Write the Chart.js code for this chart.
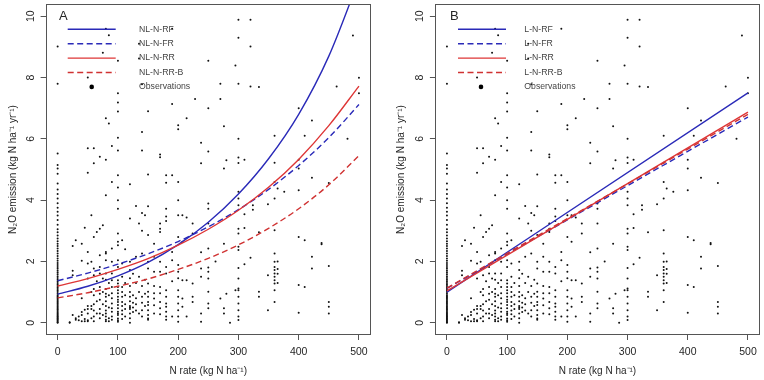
<!DOCTYPE html>
<html><head><meta charset="utf-8">
<script src="https://cdn.jsdelivr.net/npm/chart.js@4.4.1/dist/chart.umd.min.js"></script>
<style>
html,body{margin:0;padding:0;background:#fff;}
#wrap{position:relative;width:764px;height:380px;overflow:hidden;background:#fff;}
canvas{position:absolute;top:0;}
#cA{left:0;}
#cB{left:382px;}
</style></head><body>
<div id="wrap"><canvas id="cA" width="382" height="380"></canvas><canvas id="cB" width="382" height="380"></canvas></div>
<script>
// ---------- data ----------
const curveRates = [0, 50, 100, 150, 200, 250, 300, 350, 400, 450, 500];
const nlRF  = [0.93, 1.19, 1.53, 1.97, 2.55, 3.28, 4.20, 5.35, 6.80, 8.70, 11.20];
const nlFR  = [1.37, 1.62, 1.91, 2.25, 2.65, 3.13, 3.69, 4.35, 5.13, 6.04, 7.12];
const nlRR  = [1.20, 1.44, 1.74, 2.09, 2.53, 3.05, 3.67, 4.42, 5.33, 6.43, 7.72];
const nlRRB = [0.81, 0.98, 1.19, 1.43, 1.74, 2.10, 2.54, 3.08, 3.72, 4.50, 5.45];

const lineRates = [0, 500];
const lRF  = [1.00, 7.50];
const lFR  = [1.12, 6.71];
const lRR  = [1.04, 6.87];
const lRRB = [1.13, 6.80];

const namesA = ['NL-N-RF', 'NL-N-FR', 'NL-N-RR', 'NL-N-RR-B'];
const namesB = ['L-N-RF', 'L-N-FR', 'L-N-RR', 'L-N-RR-B'];
const obsLabel = 'Observations';

const xTickValues = [0, 100, 200, 300, 400, 500];
const yTickValues = [0, 2, 4, 6, 8, 10];

// observations: N rate and the N2O emissions observed at that rate
const obsRates = [0, 20, 25, 30, 35, 40, 45, 50, 56, 60, 65, 70, 75, 80, 85, 90, 100, 107, 112, 120, 125, 130, 135, 140, 145, 150, 160, 170, 180, 190, 200, 207, 214, 224, 228, 238, 250, 262, 270, 276, 280, 286, 295, 300, 310, 320, 324, 334, 349, 360, 365, 376, 400, 410, 422, 438, 450, 463, 481, 490, 500];
const obsEmissions = [
  [0,0.02,0.05,0.08,0.11,0.14,0.17,0.2,0.23,0.27,0.3,0.34,0.38,0.42,0.46,0.5,0.54,0.58,0.62,0.66,0.7,0.74,0.78,0.82,0.86,0.9,0.95,1.0,1.05,1.1,1.15,1.2,1.25,1.3,1.35,1.4,1.46,1.52,1.58,1.64,1.7,1.76,1.82,1.88,1.95,2.02,2.1,2.18,2.26,2.34,2.42,2.5,2.58,2.66,2.75,2.85,2.95,3.05,3.2,3.35,3.5,3.62,3.75,3.9,4.05,4.2,4.35,4.54,4.86,5.03,5.15,5.52,7.8,9.01],
  [0, 0.02],
  [2.5, 1.7, 1.55, 0.25],
  [2.69, 0.15, 0.1],
  [0.2, 0.08],
  [2.58, 2.02, 0.8, 0.35, 0.25, 0.05],
  [3.1, 0.42, 0.12, 0.05],
  [8.0, 5.69, 4.89, 2.31, 1.93, 1.44, 0.55, 0.45, 0.3, 0.08, 0.05],
  [3.51, 1.99, 1.0, 0.55, 0.45, 0.15],
  [5.69, 5.2, 2.8, 1.77, 1.55, 1.1, 0.9, 0.6, 0.4, 0.2, 0.05],
  [2.96, 1.35, 0.7, 0.3],
  [5.42, 3.07, 2.2, 1.82, 1.61, 1.17, 0.95, 0.75, 0.45, 0.3, 0.15],
  [8.81, 3.18, 1.44, 1.0, 0.6, 0.25],
  [9.59, 6.67, 5.32, 4.16, 2.31, 2.26, 2.04, 1.61, 1.4, 1.1, 0.95, 0.85, 0.7, 0.55, 0.4, 0.3, 0.2, 0.1, 0.05],
  [9.38, 6.5, 1.3, 0.9, 0.5, 0.15, 0.05],
  [5.77, 4.59, 2.42, 1.99, 1.61, 1.39, 1.17, 0.96, 0.8, 0.63, 0.47, 0.36, 0.2, 0.1],
  [8.55, 7.49, 7.19, 6.89, 6.04, 5.62, 4.81, 4.41, 4.0, 3.72, 2.91, 2.64, 2.53, 2.04, 1.82, 1.39, 1.28, 1.17, 1.06, 0.96, 0.85, 0.75, 0.68, 0.58, 0.47, 0.36, 0.3, 0.25, 0.14, 0.08, 0.03],
  [2.69, 1.93, 1.5, 1.17, 1.0, 0.85, 0.68, 0.55, 0.4, 0.28, 0.12],
  [2.4, 1.3, 0.9, 0.6, 0.45, 0.2],
  [4.52, 3.4, 1.99, 1.72, 1.45, 1.2, 1.0, 0.85, 0.7, 0.55, 0.5, 0.45, 0.3, 0.15, 0.0],
  [1.6, 0.9, 0.65, 0.5, 0.35],
  [3.81, 2.15, 1.3, 0.8, 0.6, 0.4],
  [9.1, 8.62, 3.24, 1.5, 1.0, 0.3],
  [7.78, 6.22, 5.62, 3.58, 3.0, 2.26, 1.2, 0.85, 0.65, 0.41, 0.2],
  [3.51, 1.4, 0.95, 0.55],
  [6.9, 4.84, 3.8, 2.86, 1.99, 1.77, 1.28, 1.01, 0.85, 0.68, 0.58, 0.41, 0.25, 0.14, 0.1],
  [2.58, 2.15, 1.66, 1.2, 0.96, 0.79, 0.57, 0.3],
  [5.49, 5.4, 3.24, 3.07, 2.96, 1.99, 1.66, 1.17, 0.96, 0.68, 0.47, 0.28],
  [4.81, 4.57, 3.72, 3.47, 3.32, 1.82, 1.61, 1.06, 0.85, 0.63, 0.52, 0.36, 0.2, 0.1],
  [9.59, 7.14, 4.81, 2.31, 2.04, 1.35, 0.2],
  [6.44, 6.31, 4.59, 4.0, 3.51, 2.8, 1.88, 1.66, 1.45, 1.06, 0.85, 0.63, 0.41, 0.2, 0.03],
  [3.51, 2.64, 1.39, 0.79, 0.52],
  [6.67, 3.43, 1.39, 0.2],
  [3.24, 2.91, 1.28, 0.85, 0.68],
  [7.3],
  [5.87, 5.2, 2.3, 1.77, 1.5, 0.3, 0.03],
  [8.55, 7.0, 5.59, 3.89, 3.72, 3.24, 2.42, 1.8, 1.66, 1.44, 1.01, 0.63, 0.47],
  [2.0],
  [7.8, 7.3, 0.79],
  [6.41, 5.03, 2.58, 0.47, 0.3],
  [5.3, 0.95],
  [0],
  [8.39, 1.06],
  [9.89, 9.3, 7.8, 6.0, 5.39, 5.21, 4.27, 4.05, 3.83, 3.07, 2.91, 2.48, 2.37, 1.79, 1.44, 1.12, 1.06, 0.85, 0.63, 0.41, 0.2, 0.09],
  [5.32, 3.54, 3.09, 1.91],
  [9.89, 9.01, 7.71, 2.12],
  [3.83, 3.69],
  [7.69, 2.95, 1.01, 0.85],
  [3.87, 1.55, 0.41],
  [6.1, 5.22, 4.59, 4.05, 3.02, 2.26, 1.99, 1.82, 1.72, 1.61, 1.5, 1.39, 1.28, 1.06, 0.68],
  [4.38, 2.0, 1.75, 1.6, 1.3],
  [4.27],
  [7.0, 5.32, 5.03, 4.32, 2.8, 1.23, 0.33],
  [6.1, 2.69, 1.17],
  [6.6, 4.73, 2.15, 1.77],
  [2.6, 2.56],
  [4.56, 1.85, 0.68, 0.52, 0.3],
  [7.71],
  [6.0],
  [9.37],
  [7.99, 7.49]
];

// ---------- styling ----------
const FONT = "'Liberation Sans', Arial, Helvetica, sans-serif";
const BLUE = '#2a2ab8';
const RED = '#de3636';
const RED_D = '#d03232';
const DASH = [6, 3.5];
const AXIS = '#555555';
const TEXT = '#262626';

const obsPoints = [];
obsRates.forEach((r, i) => obsEmissions[i].forEach(e => obsPoints.push({x: r, y: e})));

function lineDs(label, xs, ys, color, dashed, order) {
  return {
    type: 'line', label,
    data: xs.map((x, i) => ({x, y: ys[i]})),
    borderColor: color, backgroundColor: color,
    borderWidth: 1.4, borderDash: dashed ? DASH : [],
    pointRadius: 0, fill: false,
    cubicInterpolationMode: 'monotone', order
  };
}

const panelDecor = {
  id: 'panelDecor',
  afterDraw(chart, args, o) {
    const ctx = chart.ctx, ca = chart.chartArea;
    ctx.save();
    ctx.strokeStyle = AXIS; ctx.lineWidth = 1; ctx.setLineDash([]);
    ctx.strokeRect(Math.round(ca.left) + 0.5, Math.round(ca.top) + 0.5,
                   Math.round(ca.right - ca.left) - 1, Math.round(ca.bottom - ca.top) - 1);
    ctx.fillStyle = TEXT;
    ctx.font = '13px ' + FONT;
    ctx.textBaseline = 'middle'; ctx.textAlign = 'left';
    ctx.fillText(o.letter, ca.left + o.letterDx, 16.5);
    ctx.font = '8.7px ' + FONT;
    ctx.fillStyle = '#444';
    const ds = chart.data.datasets;
    for (let i = 0; i < ds.length; i++) {
      const y = 29.3 + i * 14.4;
      if (ds[i].type === 'line') {
        ctx.strokeStyle = ds[i].borderColor;
        ctx.lineWidth = ds[i].borderWidth;
        ctx.setLineDash(ds[i].borderDash || []);
        ctx.beginPath();
        ctx.moveTo(ca.left + o.lineDx, y);
        ctx.lineTo(ca.left + o.lineDx + 48, y);
        ctx.stroke();
      } else {
        ctx.fillStyle = '#000';
        ctx.beginPath();
        ctx.arc(ca.left + o.dotDx, y, 2.3, 0, Math.PI * 2);
        ctx.fill();
        ctx.fillStyle = '#444';
      }
      ctx.fillText(ds[i].label, ca.left + o.textDx, y);
    }
    ctx.restore();
  }
};

function makeChart(id, names, series, xs, geo) {
  const colors = [BLUE, BLUE, RED, RED_D];
  const dashed = [false, true, false, true];
  const orders = [4, 3, 2, 1];
  const datasets = names.map((n, i) => lineDs(n, xs, series[i], colors[i], dashed[i], orders[i]));
  datasets.push({
    type: 'scatter', label: obsLabel, data: obsPoints,
    pointRadius: 1.0, pointBackgroundColor: '#111', pointBorderWidth: 0,
    borderWidth: 0, showLine: false, order: 10
  });
  const tickFont = {family: FONT, size: 10.5};
  const titleFont = {family: FONT, size: 10};
  const grid = {display: true, drawOnChartArea: false, drawTicks: true, tickLength: 5, color: AXIS, lineWidth: 1};
  return new Chart(document.getElementById(id), {
    type: 'scatter',
    data: {datasets},
    options: {
      responsive: false, animation: false, devicePixelRatio: 1, events: [],
      layout: {padding: {left: 0, right: geo.padRight, top: 3.4, bottom: 0}},
      plugins: {
        legend: {display: false}, tooltip: {enabled: false},
        panelDecor: geo.decor
      },
      scales: {
        x: {
          type: 'linear', min: -20, max: 520,
          afterBuildTicks: s => { s.ticks = xTickValues.map(v => ({value: v})); },
          afterFit: s => { s.height = 45; s.paddingLeft = 0; s.paddingRight = 0; },
          grid, border: {display: false},
          ticks: {padding: 6, color: TEXT, font: tickFont, maxRotation: 0, autoSkip: false},
          title: {display: true, text: 'N rate (kg N ha⁻¹)', color: TEXT, font: titleFont, padding: {top: 0, bottom: 2.3}}
        },
        y: {
          type: 'linear', min: -0.4, max: 10.4,
          afterBuildTicks: s => { s.ticks = yTickValues.map(v => ({value: v})); },
          afterFit: s => { s.width = geo.yWidth; s.paddingTop = 0; s.paddingBottom = 0; },
          grid, border: {display: false},
          ticks: {padding: 4, crossAlign: 'center', minRotation: 90, maxRotation: 90, color: TEXT, font: tickFont, autoSkip: false},
          title: {display: true, text: 'N₂O emission (kg N ha⁻¹ yr⁻¹)', color: TEXT, font: titleFont, padding: {top: geo.yTitlePad, bottom: 0}}
        }
      }
    },
    plugins: [panelDecor]
  });
}

makeChart('cA', namesA, [nlRF, nlFR, nlRR, nlRRB], curveRates, {
  padRight: 11, yWidth: 45.6, yTitlePad: 7,
  decor: {letter: 'A', letterDx: 13.4, lineDx: 22.1, textDx: 93.4, dotDx: 46.1}
});
makeChart('cB', namesB, [lRF, lFR, lRR, lRRB], lineRates, {
  padRight: 3.2, yWidth: 52.9, yTitlePad: 13.2,
  decor: {letter: 'B', letterDx: 15.1, lineDx: 23.1, textDx: 89.4, dotDx: 46.1}
});
</script>
</body></html>
